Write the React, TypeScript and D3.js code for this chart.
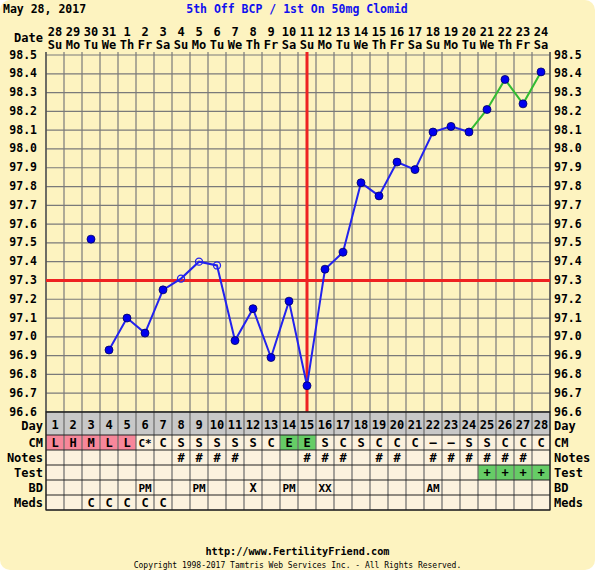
import React from "react";
import * as d3 from "d3";

const titleDate = "May 28, 2017";
const chartTitle = "5th Off BCP / 1st On 50mg Clomid";
const dates = ["28","29","30","31","1","2","3","4","5","6","7","8","9","10","11","12","13","14","15","16","17","18","19","20","21","22","23","24"];
const weekdays = ["Su","Mo","Tu","We","Th","Fr","Sa","Su","Mo","Tu","We","Th","Fr","Sa","Su","Mo","Tu","We","Th","Fr","Sa","Su","Mo","Tu","We","Th","Fr","Sa"];
const temps: (number | null)[] = [null, null, 97.52, 96.93, 97.10, 97.02, 97.25, 97.31, 97.40, 97.38, 96.98, 97.15, 96.89, 97.19, 96.74, 97.36, 97.45, 97.82, 97.75, 97.93, 97.89, 98.09, 98.12, 98.09, 98.21, 98.37, 98.24, 98.41];
const isolatedDays = [3];
const openDays = [8, 9, 10];
const greenFromDay = 24;
const coverline = 97.3;
const ovulationDay = 15;
const yTicks = ["98.5","98.4","98.3","98.2","98.1","98.0","97.9","97.8","97.7","97.6","97.5","97.4","97.3","97.2","97.1","97.0","96.9","96.8","96.7","96.6"];
const cmRow = ["L","H","M","L","L","C*","C","S","S","S","S","S","C","E","E","S","C","S","C","C","C","–","–","S","S","C","C","C"];
const notesRow = ["","","","","","","","#","#","#","#","","","","#","#","#","","#","#","","#","#","#","#","#","#",""];
const testRow = ["","","","","","","","","","","","","","","","","","","","","","","","","+","+","+","+"];
const bdRow = ["","","","","","PM","","","PM","","","X","","PM","","XX","","","","","","AM","","","","","",""];
const medsRow = ["","","C","C","C","C","C","","","","","","","","","","","","","","","","","","","","",""];

const W = 595, H = 570;
const left = 46, right = 550, top = 55, bottom = 412;
const BG = "#FDF3C0";
const FONT = "'DejaVu Sans Mono', monospace";

export default function App() {
  const n = dates.length;
  const x = d3.scaleLinear().domain([0, n]).range([left, right]);
  const cx = (i: number) => x(i + 0.5);
  const y = d3.scaleLinear().domain([96.6, 98.5]).range([bottom, top]);
  const days = d3.range(1, n + 1);

  const lineGen = d3.line<number>()
    .defined((d) => temps[d - 1] != null && !isolatedDays.includes(d))
    .x((d) => cx(d - 1))
    .y((d) => y(temps[d - 1] as number));
  const blueDays = days.filter((d) => d <= greenFromDay);
  const greenDays = days.filter((d) => d >= greenFromDay);

  const rowTop = bottom;
  const dayH = 23;
  const rowH = 15;
  const rows = [
    { label: "CM", data: cmRow },
    { label: "Notes", data: notesRow },
    { label: "Test", data: testRow },
    { label: "BD", data: bdRow },
    { label: "Meds", data: medsRow },
  ];
  const tableBottom = rowTop + dayH + rows.length * rowH;

  const cmColor = (v: string) => (["L", "H", "M"].includes(v) ? "#F7879A" : v === "E" ? "#66CC66" : "#FCF2DE");

  return (
    <svg width={W} height={H} style={{ position: "absolute", left: 0, top: 0, background: "#fff" }} fontFamily={FONT}>
      <rect x={0} y={0} width={W} height={H} rx={10} fill={BG} />
      <text x={3} y={13} fontSize={11.5} fontWeight="bold" fill="#000">{titleDate}</text>
      <text x={297} y={13} fontSize={11.5} fontWeight="bold" fill="#1010EE" textAnchor="middle">{chartTitle}</text>
      <text x={43} y={42} fontSize={12} fontWeight="bold" textAnchor="end">Date</text>
      {dates.map((d, i) => (
        <text key={"d" + i} x={cx(i)} y={36} fontSize={12} fontWeight="bold" textAnchor="middle">{d}</text>
      ))}
      {weekdays.map((d, i) => (
        <text key={"w" + i} x={cx(i)} y={49} fontSize={12} fontWeight="bold" textAnchor="middle">{d}</text>
      ))}
      {/* grid */}
      {yTicks.map((t) => (
        <line key={"h" + t} x1={left} x2={right} y1={y(+t)} y2={y(+t)} stroke="#7a7a7a" strokeWidth={1.2} />
      ))}
      {d3.range(0, n + 1).map((i) => (
        <line key={"v" + i} x1={x(i)} x2={x(i)} y1={top - 3} y2={bottom} stroke="#7a7a7a" strokeWidth={1.2} />
      ))}
      <line x1={left} x2={left} y1={top - 3} y2={bottom} stroke="#444" strokeWidth={1.2} />
      <line x1={right} x2={right} y1={top - 3} y2={bottom} stroke="#444" strokeWidth={1.2} />
      {yTicks.map((t) => (
        <g key={"yl" + t}>
          <text x={37} y={y(+t) + 3.5} fontSize={11.5} fontWeight="bold" textAnchor="end">{t}</text>
          <text x={554} y={y(+t) + 3.5} fontSize={11.5} fontWeight="bold">{t}</text>
        </g>
      ))}
      {/* coverline & ovulation */}
      <line x1={left} x2={right} y1={y(coverline)} y2={y(coverline)} stroke="#EE2222" strokeWidth={3} />
      <line x1={cx(ovulationDay - 1)} x2={cx(ovulationDay - 1)} y1={top - 3} y2={bottom} stroke="#EE2222" strokeWidth={3} />
      {/* lines */}
      <path d={lineGen(blueDays) || ""} fill="none" stroke="#2222EE" strokeWidth={2} />
      <path d={lineGen(greenDays) || ""} fill="none" stroke="#33BB33" strokeWidth={2} />
      {days.map((d) => {
        const v = temps[d - 1];
        if (v == null) return null;
        const open = openDays.includes(d);
        return (
          <circle key={"p" + d} cx={cx(d - 1)} cy={y(v)} r={open ? 3.5 : 4}
            fill={open ? "none" : "#0000EE"} stroke={open ? "#2222EE" : "#000066"} strokeWidth={open ? 1.3 : 0.8} />
        );
      })}
      {/* table */}
      <rect x={left} y={rowTop} width={right - left} height={dayH} fill="#C8C8C8" />
      {days.map((d) => (
        <text key={"dn" + d} x={cx(d - 1)} y={rowTop + 17} fontSize={12} fontWeight="bold" textAnchor="middle">{d}</text>
      ))}
      <text x={43} y={rowTop + 18} fontSize={12} fontWeight="bold" textAnchor="end">Day</text>
      <text x={554} y={rowTop + 18} fontSize={12} fontWeight="bold">Day</text>
      {rows.map((r, ri) => {
        const ry = rowTop + dayH + ri * rowH;
        return (
          <g key={"r" + r.label}>
            {r.data.map((v, i) => {
              let fill = "#FCF2DE";
              if (r.label === "CM") fill = cmColor(v);
              if (r.label === "Test" && v === "+") fill = "#66CC66";
              return <rect key={i} x={x(i)} y={ry} width={x(i + 1) - x(i)} height={rowH} fill={fill} />;
            })}
            {r.data.map((v, i) => (
              v ? <text key={"t" + i} x={cx(i)} y={ry + 11.5} fontSize={v.length > 1 ? 11 : 12} fontWeight="bold" textAnchor="middle">{v}</text> : null
            ))}
            <text x={43} y={ry + 11.5} fontSize={12} fontWeight="bold" textAnchor="end">{r.label}</text>
            <text x={554} y={ry + 11.5} fontSize={12} fontWeight="bold">{r.label}</text>
          </g>
        );
      })}
      {d3.range(0, n + 1).map((i) => (
        <line key={"tv" + i} x1={x(i)} x2={x(i)} y1={rowTop} y2={tableBottom} stroke="#6a6a6a" strokeWidth={1.2} />
      ))}
      {[rowTop, rowTop + dayH, ...rows.map((_, ri) => rowTop + dayH + (ri + 1) * rowH)].map((yy, i) => (
        <line key={"th" + i} x1={left} x2={right} y1={yy} y2={yy} stroke="#222" strokeWidth={1.2} />
      ))}
      <rect x={left} y={rowTop} width={right - left} height={tableBottom - rowTop} fill="none" stroke="#222" strokeWidth={1.2} />
      <text x={W / 2} y={555} fontSize={10.2} fontWeight="bold" textAnchor="middle">http://www.FertilityFriend.com</text>
      <text x={W / 2} y={568} fontSize={8} textAnchor="middle">Copyright 1998-2017 Tamtris Web Services Inc. - All Rights Reserved.</text>
    </svg>
  );
}
